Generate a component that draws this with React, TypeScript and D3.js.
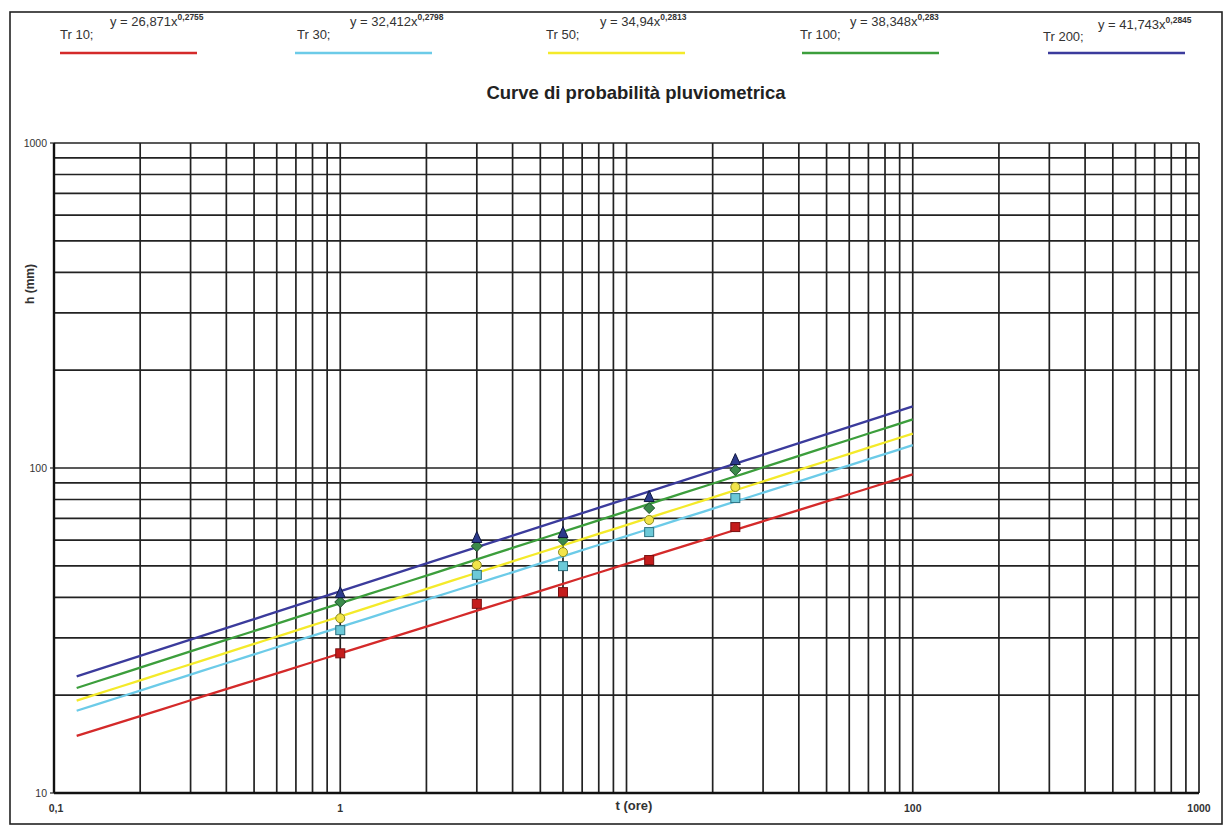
import React from "react";
import * as d3 from "d3";

const W = 1226;
const H = 827;

const durations = [1, 3, 6, 12, 24];
const seriesNames = ["Tr 10", "Tr 30", "Tr 50", "Tr 100", "Tr 200"];
const coefA = [26.871, 32.412, 34.94, 38.348, 41.743];
const expB = [0.2755, 0.2798, 0.2813, 0.283, 0.2845];
const coefLabels = ["26,871", "32,412", "34,94", "38,348", "41,743"];
const expLabels = ["0,2755", "0,2798", "0,2813", "0,283", "0,2845"];
const tr10 = [26.9, 38.2, 41.5, 52.1, 65.8];
const tr30 = [31.7, 46.9, 49.9, 63.5, 80.8];
const tr50 = [34.5, 50.3, 55.1, 69.2, 87.4];
const tr100 = [38.7, 57.5, 60.0, 75.3, 98.6];
const tr200 = [41.2, 60.9, 63.1, 81.4, 105.8];
const observed = [tr10, tr30, tr50, tr100, tr200];
const colors = ["#d42a2a", "#6ccbe8", "#f4ea2a", "#3c9e3c", "#3b3b9c"];
const markerFill = ["#c41c1c", "#6cc9d8", "#f2e44a", "#3a8a4a", "#2c3a8c"];
const markerStroke = ["#7a1010", "#2a7080", "#8a8a20", "#1a4a2a", "#101840"];
const markerShape = ["square", "square", "circle", "diamond", "triangle"];
const xTickValues = [0.1, 1, 100, 1000];
const xTickLabels = ["0,1", "1", "100", "1000"];
const yTickValues = [10, 100, 1000];
const yTickLabels = ["10", "100", "1000"];
const fitStart = 0.12;
const fitEnd = 100;

const legendX = [60, 297, 546, 800, 1043];
const legendEqX = [110, 350, 600, 850, 1098];
const legendLineX = [60, 295, 548, 802, 1048];

export default function App() {
  const x = d3.scaleLog().domain([0.1, 1000]).range([54, 1199]);
  const y = d3.scaleLog().domain([10, 1000]).range([793, 143]);

  const gridX: number[] = [];
  for (let e = -1; e < 3; e++) {
    for (let m = 1; m <= 9; m++) gridX.push(m * Math.pow(10, e));
  }
  gridX.push(1000);
  const gridY: number[] = [];
  for (let e = 1; e < 3; e++) {
    for (let m = 1; m <= 9; m++) gridY.push(m * Math.pow(10, e));
  }
  gridY.push(1000);

  const fitXs = d3.range(0, 41).map((i) =>
    Math.pow(10, Math.log10(fitStart) + (i / 40) * (Math.log10(fitEnd) - Math.log10(fitStart)))
  );
  const line = d3
    .line<number[]>()
    .x((d) => x(d[0]))
    .y((d) => y(d[1]));

  const font = "'Liberation Sans', Arial, sans-serif";

  const marker = (shape: string, cx: number, cy: number, i: number, key: string) => {
    const s = 4.5;
    const common = { fill: markerFill[i], stroke: markerStroke[i], strokeWidth: 1 };
    if (shape === "square")
      return <rect key={key} x={cx - s} y={cy - s} width={2 * s} height={2 * s} {...common} />;
    if (shape === "circle") return <circle key={key} cx={cx} cy={cy} r={s} {...common} />;
    if (shape === "diamond")
      return (
        <path
          key={key}
          d={`M${cx},${cy - s - 1}L${cx + s + 1},${cy}L${cx},${cy + s + 1}L${cx - s - 1},${cy}Z`}
          {...common}
        />
      );
    return (
      <path
        key={key}
        d={`M${cx},${cy - s - 2}L${cx + s + 0.5},${cy + s}L${cx - s - 0.5},${cy + s}Z`}
        {...common}
      />
    );
  };

  return (
    <svg
      width={W}
      height={H}
      style={{ position: "absolute", left: 0, top: 0, background: "#fff" }}
      fontFamily={font}
    >
      <rect x={0} y={0} width={W} height={H} fill="#fff" />
      <rect x={10} y={12} width={1212} height={812} fill="none" stroke="#222" strokeWidth={1.6} />

      {/* legend */}
      {seriesNames.map((n, i) => (
        <g key={n}>
          <text x={legendX[i]} y={i === 4 ? 41 : 39} fontSize={13} fill="#333">
            {n};
          </text>
          <text x={legendEqX[i]} y={i === 4 ? 29 : 26} fontSize={13} fill="#333">
            {"y = " + coefLabels[i] + "x"}
            <tspan dy={-6} fontSize={8.5} fontWeight="bold">
              {expLabels[i]}
            </tspan>
          </text>
          <line
            x1={legendLineX[i]}
            x2={legendLineX[i] + 137}
            y1={53}
            y2={53}
            stroke={colors[i]}
            strokeWidth={2.5}
          />
        </g>
      ))}

      <text x={636} y={99} textAnchor="middle" fontSize={18.5} fontWeight="bold" fill="#222">
        Curve di probabilità pluviometrica
      </text>

      {/* grid */}
      {gridY.map((v) => (
        <line key={"gy" + v} x1={x(0.1)} x2={x(1000)} y1={y(v)} y2={y(v)} stroke="#222" strokeWidth={1.7} />
      ))}
      {gridX.map((v) => (
        <line key={"gx" + v} x1={x(v)} x2={x(v)} y1={y(10)} y2={y(1000)} stroke="#222" strokeWidth={1.7} />
      ))}
      <line x1={x(0.1)} x2={x(0.1)} y1={y(10)} y2={y(1000)} stroke="#111" strokeWidth={2.4} />
      <line x1={x(0.1)} x2={x(1000)} y1={y(10)} y2={y(10)} stroke="#111" strokeWidth={2.4} />
      {yTickValues.map((v) => (
        <line key={"yt" + v} x1={x(0.1) - 4} x2={x(0.1)} y1={y(v)} y2={y(v)} stroke="#222" strokeWidth={1.2} />
      ))}

      {/* tick labels */}
      {yTickValues.map((v, i) => (
        <text key={"yl" + v} x={47} y={y(v) + 4} textAnchor="end" fontSize={10.5} fill="#333">
          {yTickLabels[i]}
        </text>
      ))}
      {xTickValues.map((v, i) => (
        <text
          key={"xl" + v}
          x={x(v) + (i === 0 ? 2 : 0)}
          y={812}
          textAnchor="middle"
          fontSize={10.5}
          fontWeight="bold"
          fill="#333"
        >
          {xTickLabels[i]}
        </text>
      ))}
      <text x={634} y={810} textAnchor="middle" fontSize={13} fontWeight="bold" fill="#333">
        t (ore)
      </text>
      <text
        transform={`translate(34,284) rotate(-90)`}
        textAnchor="middle"
        fontSize={12}
        fontWeight="bold"
        fill="#333"
      >
        h (mm)
      </text>

      {/* fitted curves */}
      {seriesNames.map((n, i) => (
        <path
          key={"fit" + n}
          d={line(fitXs.map((t) => [t, coefA[i] * Math.pow(t, expB[i])])) || ""}
          fill="none"
          stroke={colors[i]}
          strokeWidth={2.3}
        />
      ))}

      {/* observed points */}
      {observed.map((vals, i) =>
        vals.map((v, j) => marker(markerShape[i], x(durations[j]), y(v), i, `m${i}-${j}`))
      )}
    </svg>
  );
}
